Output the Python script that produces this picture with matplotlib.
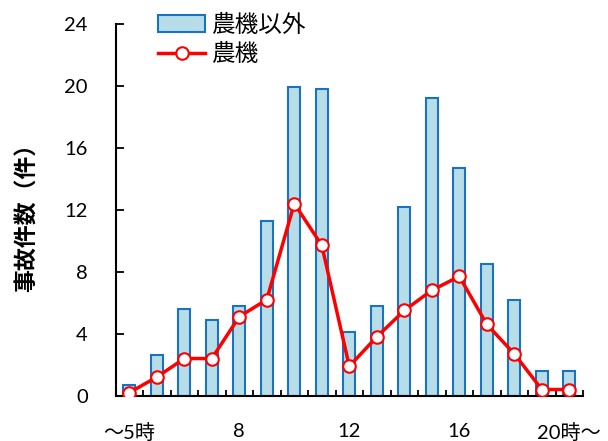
import numpy as np
import matplotlib.pyplot as plt

# hours: ~5, 5, 6, ... 20~ (17 slots)
hours = np.arange(17)
tick_pos = [0, 4, 8, 12, 16]
tick_labels = ['～5時', '8', '12', '16', '20時～']

other = [0.7, 2.6, 5.6, 4.9, 5.8, 11.3, 19.9, 19.8, 4.1, 5.8, 12.2, 19.2, 14.7, 8.5, 6.2, 1.6, 1.6]
farm = [0.2, 1.2, 2.4, 2.4, 5.1, 6.2, 12.4, 9.7, 1.9, 3.8, 5.5, 6.8, 7.7, 4.6, 2.7, 0.4, 0.4]

plt.rcParams['font.family'] = ['Lato', 'Noto Sans CJK JP', 'DejaVu Sans']

fig = plt.figure(figsize=(6.08, 4.41), dpi=100)
ax = fig.add_axes([0.190, 0.1027, 0.769, 0.8435])

bars = ax.bar(hours, other, width=0.43, color='#b7dee8', edgecolor='#1a73c2', linewidth=1.5,
              label='農機以外', zorder=2)
line, = ax.plot(hours, farm, color='#ff0000', linewidth=2.5, marker='o', markersize=9,
                markerfacecolor='white', markeredgecolor='#ff0000', markeredgewidth=1.5,
                label='農機', zorder=3)

ax.set_xlim(-0.5, 16.5)
ax.set_ylim(0, 24)
ax.set_yticks(np.arange(0, 25, 4))
ax.set_xticks(tick_pos)
ax.set_xticklabels(tick_labels)
ax.set_xticks(np.arange(0.5, 17, 1), minor=True)

for s in ['top', 'right']:
    ax.spines[s].set_visible(False)
for s in ['left', 'bottom']:
    ax.spines[s].set_linewidth(1.5)

ax.tick_params(axis='y', direction='in', length=6, width=1.3, labelsize=14.5, pad=20)
ax.tick_params(axis='x', which='major', length=0, labelsize=14.5, pad=20)
ax.tick_params(axis='x', which='minor', direction='in', length=4, width=1.3)

fig.text(27 / 608, 0.52, '事故件数（件）', rotation=90, ha='center', va='center',
         fontsize=16.5, fontweight='bold', family=['Noto Sans CJK JP'])

leg = ax.legend([bars, line], ['農機以外', '農機'], loc='upper left',
                bbox_to_anchor=(0.2405, 0.995), bbox_transform=fig.transFigure,
                frameon=False, borderpad=0, handlelength=2.0, handletextpad=0.25,
                labelspacing=0.25, prop={'family': 'Noto Sans CJK JP', 'size': 17})

fig.savefig('out.png', dpi=100)
